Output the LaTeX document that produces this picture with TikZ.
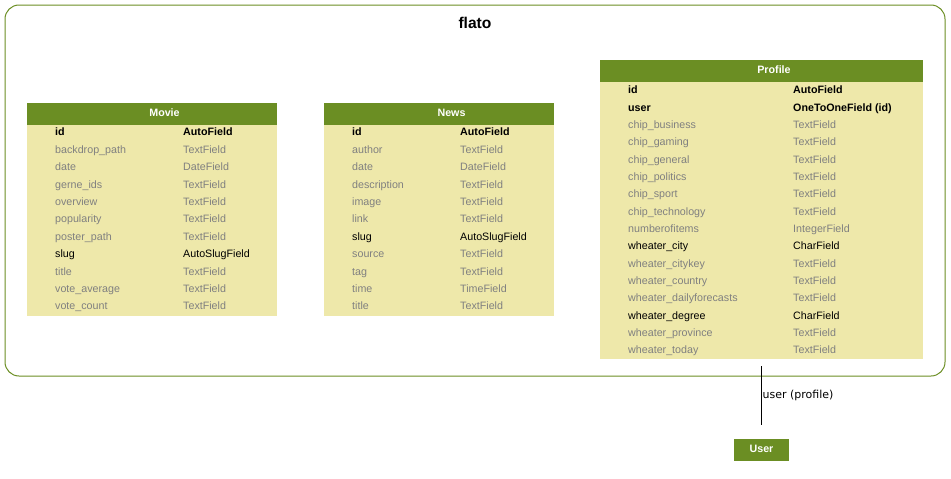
\documentclass[tikz,border=0pt]{standalone}
\usepackage{fontspec}
\setmainfont{Liberation Sans}
\newfontfamily\edgefont{DejaVu Sans}
\definecolor{djgreen}{RGB}{107,142,35}
\definecolor{djbody}{RGB}{238,232,170}
\definecolor{djgray}{RGB}{128,128,128}
\begin{document}
\begin{tikzpicture}[x=1pt, y=-1pt,
		every node/.style={font=\fontsize{10.7pt}{13pt}\selectfont},
		tbl/.style={fill=djbody, inner sep=0},
		head/.style={fill=djgreen, text=white, inner sep=0, minimum height=22pt, text height=5.5pt, text depth=0.8pt, font=\fontsize{10.7pt}{13pt}\selectfont\bfseries},
		fld/.style={anchor=west, inner sep=0, text height=10.3pt, text depth=0.8pt, text=djgray},
		key/.style={fld, text=black},
		pk/.style={key, font=\fontsize{10.7pt}{13pt}\selectfont\bfseries}]
		\useasboundingbox (0,0) rectangle (951,479);
		% app cluster
		\node (flato) [draw=djgreen, line width=1pt, rounded corners=14pt, minimum width=940pt, minimum height=371pt, inner sep=0] at (475,190.5) {};
		\node (flatotitle) [font=\fontsize{15.6pt}{18pt}\selectfont\bfseries] at (475,23) {flato};
		% Movie
		\node (movie) [tbl, minimum width=250pt, minimum height=213pt] at (152,209.5) {};
		\node (moviehead) [head, minimum width=250pt] at (152,114) {\hspace*{25pt}Movie};
		\node (m1n) [pk] at (55,131) {id}; \node (m1t) [pk] at (183,131) {AutoField};
		\node (m2n) [fld] at (55,149) {backdrop\_path}; \node (m2t) [fld] at (183,149) {TextField};
		\node (m3n) [fld] at (55,166) {date}; \node (m3t) [fld] at (183,166) {DateField};
		\node (m4n) [fld] at (55,184) {gerne\_ids}; \node (m4t) [fld] at (183,184) {TextField};
		\node (m5n) [fld] at (55,201) {overview}; \node (m5t) [fld] at (183,201) {TextField};
		\node (m6n) [fld] at (55,218) {popularity}; \node (m6t) [fld] at (183,218) {TextField};
		\node (m7n) [fld] at (55,236) {poster\_path}; \node (m7t) [fld] at (183,236) {TextField};
		\node (m8n) [key] at (55,253) {slug}; \node (m8t) [key] at (183,253) {AutoSlugField};
		\node (m9n) [fld] at (55,271) {title}; \node (m9t) [fld] at (183,271) {TextField};
		\node (m10n) [fld] at (55,288) {vote\_average}; \node (m10t) [fld] at (183,288) {TextField};
		\node (m11n) [fld] at (55,305) {vote\_count}; \node (m11t) [fld] at (183,305) {TextField};
		% News
		\node (news) [tbl, minimum width=230pt, minimum height=213pt] at (439,209.5) {};
		\node (newshead) [head, minimum width=230pt] at (439,114) {\hspace*{25pt}News};
		\node (n1n) [pk] at (352,131) {id}; \node (n1t) [pk] at (460,131) {AutoField};
		\node (n2n) [fld] at (352,149) {author}; \node (n2t) [fld] at (460,149) {TextField};
		\node (n3n) [fld] at (352,166) {date}; \node (n3t) [fld] at (460,166) {DateField};
		\node (n4n) [fld] at (352,184) {description}; \node (n4t) [fld] at (460,184) {TextField};
		\node (n5n) [fld] at (352,201) {image}; \node (n5t) [fld] at (460,201) {TextField};
		\node (n6n) [fld] at (352,218) {link}; \node (n6t) [fld] at (460,218) {TextField};
		\node (n7n) [key] at (352,236) {slug}; \node (n7t) [key] at (460,236) {AutoSlugField};
		\node (n8n) [fld] at (352,253) {source}; \node (n8t) [fld] at (460,253) {TextField};
		\node (n9n) [fld] at (352,271) {tag}; \node (n9t) [fld] at (460,271) {TextField};
		\node (n10n) [fld] at (352,288) {time}; \node (n10t) [fld] at (460,288) {TimeField};
		\node (n11n) [fld] at (352,305) {title}; \node (n11t) [fld] at (460,305) {TextField};
		% Profile
		\node (profile) [tbl, minimum width=323pt, minimum height=299pt] at (761.5,209.5) {};
		\node (profilehead) [head, minimum width=323pt] at (761.5,71) {\hspace*{25pt}Profile};
		\node (p1n) [pk] at (628,89) {id}; \node (p1t) [pk] at (793,89) {AutoField};
		\node (p2n) [pk] at (628,107) {user}; \node (p2t) [pk] at (793,107) {OneToOneField (id)};
		\node (p3n) [fld] at (628,124) {chip\_business}; \node (p3t) [fld] at (793,124) {TextField};
		\node (p4n) [fld] at (628,141) {chip\_gaming}; \node (p4t) [fld] at (793,141) {TextField};
		\node (p5n) [fld] at (628,159) {chip\_general}; \node (p5t) [fld] at (793,159) {TextField};
		\node (p6n) [fld] at (628,176) {chip\_politics}; \node (p6t) [fld] at (793,176) {TextField};
		\node (p7n) [fld] at (628,193) {chip\_sport}; \node (p7t) [fld] at (793,193) {TextField};
		\node (p8n) [fld] at (628,211) {chip\_technology}; \node (p8t) [fld] at (793,211) {TextField};
		\node (p9n) [fld] at (628,228) {numberofitems}; \node (p9t) [fld] at (793,228) {IntegerField};
		\node (p10n) [key] at (628,245) {wheater\_city}; \node (p10t) [key] at (793,245) {CharField};
		\node (p11n) [fld] at (628,263) {wheater\_citykey}; \node (p11t) [fld] at (793,263) {TextField};
		\node (p12n) [fld] at (628,280) {wheater\_country}; \node (p12t) [fld] at (793,280) {TextField};
		\node (p13n) [fld] at (628,297) {wheater\_dailyforecasts}; \node (p13t) [fld] at (793,297) {TextField};
		\node (p14n) [key] at (628,315) {wheater\_degree}; \node (p14t) [key] at (793,315) {CharField};
		\node (p15n) [fld] at (628,332) {wheater\_province}; \node (p15t) [fld] at (793,332) {TextField};
		\node (p16n) [fld] at (628,349) {wheater\_today}; \node (p16t) [fld] at (793,349) {TextField};
		% User
		\node (user) [head, minimum width=55pt] at (761.5,450) {User};
		\draw [line width=1.2pt, shorten <=7pt, shorten >=14pt] (profile) -- node (userlabel) [pos=0.455, anchor=west, inner sep=0.5pt, font=\edgefont\fontsize{11pt}{13pt}\selectfont] {user (profile)} (user);
	\end{tikzpicture}
\end{document}
